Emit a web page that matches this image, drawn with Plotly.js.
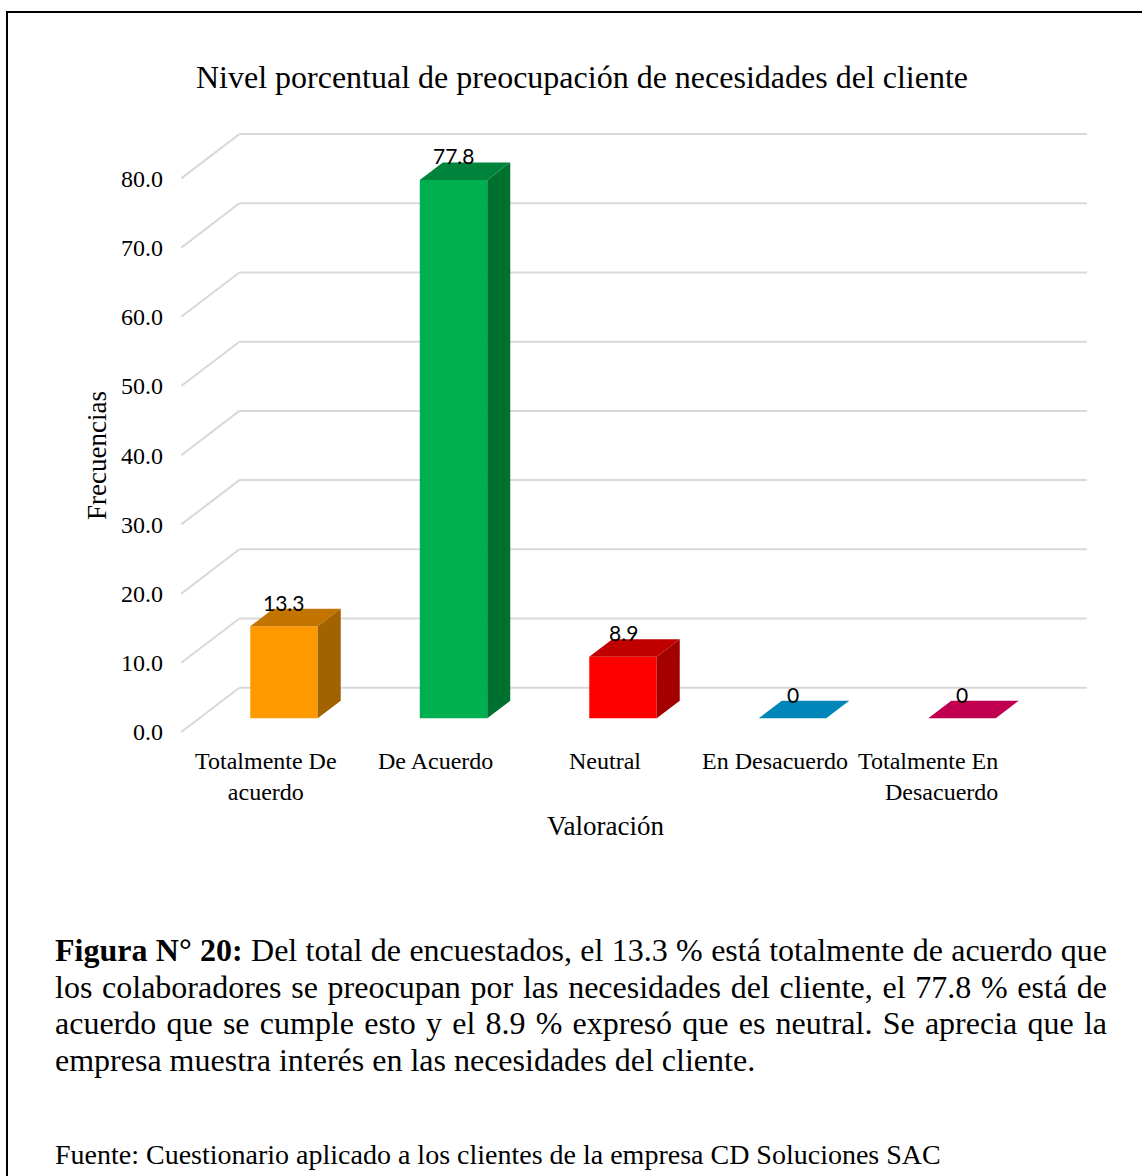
<!DOCTYPE html>
<html>
<head>
<meta charset="utf-8">
<script src="https://cdn.plot.ly/plotly-3.0.1.min.js"></script>
<style>
  html, body { margin:0; padding:0; background:#fff; width:1142px; height:1176px; overflow:hidden; }
  #frame { position:absolute; left:6px; top:11px; width:2000px; height:2000px;
           border-top:2.5px solid #000; border-left:2.5px solid #000; pointer-events:none; }
  #chart { position:absolute; left:0; top:0; width:1142px; height:880px; }
  .cap { position:absolute; left:55px; width:1052px; font-family:"Liberation Serif","Times New Roman",serif;
         font-size:32px; line-height:36.7px; color:#000; }
  .cap div { text-align:justify; text-align-last:justify; white-space:nowrap; }
  .cap div.last { text-align-last:left; }
  #fuente { position:absolute; left:55px; top:1140px; font-family:"Liberation Serif","Times New Roman",serif;
            font-size:28px; line-height:30px; color:#000; white-space:nowrap; }
</style>
</head>
<body>
<div id="chart"></div>
<div class="cap" style="top:932px;">
  <div><b>Figura N° 20:</b> Del total de encuestados, el 13.3 % está totalmente de acuerdo que</div>
  <div>los colaboradores se preocupan por las necesidades del cliente, el 77.8 % está de</div>
  <div>acuerdo que se cumple esto y el 8.9 % expresó que es neutral. Se aprecia que la</div>
  <div class="last">empresa muestra interés en las necesidades del cliente.</div>
</div>
<div id="fuente">Fuente: Cuestionario aplicado a los clientes de la empresa CD Soluciones SAC</div>
<div id="frame"></div>
<script>
// ---------- data ----------
const categories = ["Totalmente De acuerdo", "De Acuerdo", "Neutral", "En Desacuerdo", "Totalmente En Desacuerdo"];
const categoryLabels = ["Totalmente De<br>acuerdo", "De Acuerdo", "Neutral", "En Desacuerdo", "Totalmente En<br>Desacuerdo"];
const values = [13.3, 77.8, 8.9, 0, 0];
const valueLabels = ["13.3", "77.8", "8.9", "0", "0"];
const yTicks = [0, 10, 20, 30, 40, 50, 60, 70, 80];
const yTickText = ["0.0", "10.0", "20.0", "30.0", "40.0", "50.0", "60.0", "70.0", "80.0"];
const titleText = "Nivel porcentual de preocupación de necesidades del cliente";
const xTitle = "Valoración";
const yTitle = "Frecuencias";

// ---------- styles ----------
const frontColors = ["#FF9900", "#00B050", "#FF0000", "#0A8CC4", "#D0005A"];
const topColors   = ["#C27400", "#00843C", "#C00000", "#0086B8", "#C0004F"];
const sideColors  = ["#A36200", "#00702E", "#A30000", "#006A92", "#98003E"];
const serif = "Liberation Serif, Times New Roman, serif";
const sans = "Lato, Liberation Sans, sans-serif";

// 3D oblique geometry (in axis units)
const BAR_W = 0.398;
const DEPTH_X = 0.1357, DEPTH_Y = 2.53;     // bar depth
const FRONT_X = -0.1057, FRONT_Y = -1.98;   // floor front edge relative to bar front plane
const BACK_X = 0.2365, BACK_Y = 4.42;       // back wall relative to bar front plane
const XR = [-0.6136, 5.0619];
const YR = [-6.026, 103.80];

const traces = [];
// front faces
traces.push({
  type: "bar", x: categories.map((c, i) => i), y: values, width: BAR_W,
  marker: { color: frontColors, line: { width: 0 } }, hoverinfo: "skip"
});
// top and side faces
values.forEach((v, i) => {
  const l = i - BAR_W / 2, r = i + BAR_W / 2;
  traces.push({
    type: "scatter", mode: "lines", fill: "toself", fillcolor: topColors[i],
    line: { width: 0, color: topColors[i] }, hoverinfo: "skip",
    x: [l, r, r + DEPTH_X, l + DEPTH_X, l],
    y: [v, v, v + DEPTH_Y, v + DEPTH_Y, v]
  });
  if (v > 0) {
    traces.push({
      type: "scatter", mode: "lines", fill: "toself", fillcolor: sideColors[i],
      line: { width: 0, color: sideColors[i] }, hoverinfo: "skip",
      x: [r, r, r + DEPTH_X, r + DEPTH_X, r],
      y: [0, v, v + DEPTH_Y, DEPTH_Y, 0]
    });
  }
});

// gridlines on the walls
const shapes = [];
yTicks.forEach(v => {
  shapes.push({ type: "line", layer: "below", xref: "x", yref: "y",
    x0: -0.5 + FRONT_X, y0: v + FRONT_Y, x1: -0.5 + BACK_X, y1: v + BACK_Y,
    line: { color: "#D9D9D9", width: 2 } });
  shapes.push({ type: "line", layer: "below", xref: "x", yref: "y",
    x0: -0.5 + BACK_X, y0: v + BACK_Y, x1: categories.length - 0.5 + BACK_X, y1: v + BACK_Y,
    line: { color: "#D9D9D9", width: 2 } });
});

const annotations = [];
// data labels
values.forEach((v, i) => {
  annotations.push({ xref: "x", yref: "y", x: i, y: v, yshift: 24, text: valueLabels[i],
    xanchor: "center", yanchor: "middle",
    showarrow: false, font: { family: sans, size: 21, color: "#000" } });
});
// category labels (on the floor front edge)
categoryLabels.forEach((t, i) => {
  const last = i === categoryLabels.length - 1;
  annotations.push({ xref: "x", yref: "y", x: last ? i + FRONT_X + 0.33 : i + FRONT_X, y: -4.0,
    xanchor: last ? "right" : "center", yanchor: "top", align: last ? "right" : "center",
    text: t, showarrow: false, font: { family: serif, size: 24, color: "#000" } });
});
// axis titles
annotations.push({ xref: "paper", yref: "paper", x: 0.4428, y: -0.0868, text: xTitle,
  xanchor: "center", yanchor: "middle",
  showarrow: false, font: { family: serif, size: 27, color: "#000" } });
annotations.push({ xref: "paper", yref: "paper", x: -0.0863, y: 0.4013, text: yTitle, textangle: -90,
  xanchor: "center", yanchor: "middle",
  showarrow: false, font: { family: serif, size: 27, color: "#000" } });

const layout = {
  width: 1142, height: 880,
  margin: { l: 180, r: 0, t: 0, b: 120 },
  paper_bgcolor: "rgba(0,0,0,0)", plot_bgcolor: "rgba(0,0,0,0)",
  showlegend: false,
  title: { text: titleText, font: { family: serif, size: 32, color: "#000" },
           x: 582 / 1142, xanchor: "center", xref: "container",
           y: 1 - 77 / 880, yanchor: "middle", yref: "container" },
  xaxis: { range: XR, showgrid: false, zeroline: false, showticklabels: false, showline: false, ticks: "", fixedrange: true },
  yaxis: { range: YR, showgrid: false, zeroline: false, showticklabels: false, showline: false, ticks: "", fixedrange: true },
  yaxis2: { overlaying: "y", side: "left", range: [YR[0] - FRONT_Y, YR[1] - FRONT_Y],
            tickmode: "array", tickvals: yTicks, ticktext: yTickText, ticks: "",
            showgrid: false, zeroline: false, showline: false, ticklabelstandoff: 16,
            tickfont: { family: serif, size: 24, color: "#000" }, fixedrange: true },
  shapes: shapes, annotations: annotations
};

// invisible trace to activate yaxis2
traces.push({ type: "scatter", x: [0], y: [0], yaxis: "y2", mode: "markers",
  marker: { opacity: 0 }, hoverinfo: "skip" });

Plotly.newPlot("chart", traces, layout, { staticPlot: true, displayModeBar: false });
</script>
</body>
</html>
